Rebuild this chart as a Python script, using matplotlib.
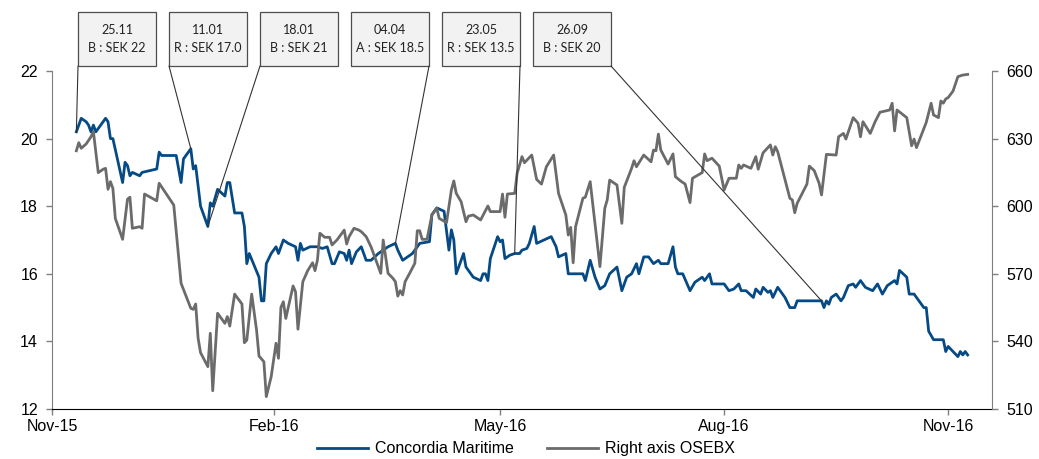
import pandas as pd
import matplotlib.pyplot as plt
import matplotlib.dates as mdates
from matplotlib.patches import Rectangle
from matplotlib.patches import ConnectionPatch

plt.rcParams['font.family'] = ['Liberation Sans', 'DejaVu Sans']

# days after 25.11.2015
start = pd.Timestamp('2015-11-25')

blue_day = [0, 2, 4, 5, 6, 7, 8, 12, 13, 14,
            15, 19, 20, 21, 22, 23, 26, 27, 33, 34,
            35, 41, 43, 44, 47, 48, 49, 51, 54, 55,
            56, 58, 61, 62, 63, 65, 68, 69, 70, 71,
            75, 76, 77, 78, 80, 82, 83, 85, 87, 90,
            91, 92, 93, 96, 99, 101, 103, 105, 106, 108,
            110, 111, 112, 113, 115, 117, 119, 121, 124, 128,
            131, 132, 134, 135, 138, 139, 141, 145, 146, 148,
            151, 153, 154, 155, 156, 159, 160, 163, 166, 167,
            168, 169, 170, 173, 174, 175, 176, 178, 180, 182,
            183, 185, 186, 188, 189, 192, 195, 197, 198, 201,
            202, 208, 209, 211, 213, 215, 217, 219, 222, 224,
            226, 228, 230, 231, 233, 235, 237, 239, 240, 243,
            245, 246, 247, 249, 252, 254, 257, 258, 260, 261,
            266, 268, 270, 272, 273, 275, 278, 279, 281, 282,
            284, 285, 286, 288, 291, 293, 295, 296, 303, 306,
            307, 308, 309, 310, 312, 314, 315, 317, 319, 320,
            322, 324, 327, 329, 331, 333, 336, 337, 338, 341,
            342, 344, 348, 349, 350, 352, 356, 357, 358, 362,
            363, 364, 365, 366]
blue_val = [20.2, 20.6, 20.5, 20.4, 20.2, 20.4, 20.2, 20.6, 20.5, 20.0,
            20.0, 18.7, 19.3, 19.2, 18.9, 19.0, 18.9, 19.0, 19.1, 19.6,
            19.5, 19.5, 18.7, 19.4, 19.7, 19.1, 19.2, 18.0, 17.4, 18.1,
            18.0, 18.5, 18.3, 18.7, 18.7, 17.8, 17.8, 17.4, 16.3, 16.6,
            15.9, 15.2, 15.2, 16.3, 16.6, 16.8, 16.6, 17.0, 16.9, 16.8,
            16.4, 16.9, 16.7, 16.8, 16.8, 16.75, 16.8, 16.3, 16.3, 16.65,
            16.6, 16.4, 16.7, 16.3, 16.65, 16.8, 16.4, 16.4, 16.6, 16.8,
            16.9, 16.7, 16.4, 16.45, 16.6, 16.7, 16.9, 16.95, 17.75, 17.95,
            17.85, 16.7, 17.3, 17.0, 16.0, 16.6, 16.2, 15.9, 15.8, 16.0,
            16.0, 15.8, 16.45, 17.1, 16.95, 17.0, 16.45, 16.55, 16.6, 16.6,
            16.7, 16.75, 16.9, 17.4, 16.9, 17.0, 17.1, 16.8, 16.5, 16.6,
            16.0, 16.0, 15.8, 16.4, 15.9, 15.55, 15.65, 16.0, 16.2, 15.5,
            15.9, 16.0, 16.3, 16.0, 16.5, 16.5, 16.3, 16.4, 16.3, 16.3,
            16.8, 16.2, 16.0, 16.0, 15.5, 15.75, 15.9, 15.8, 16.0, 15.7,
            15.7, 15.5, 15.55, 15.7, 15.5, 15.5, 15.3, 15.55, 15.4, 15.6,
            15.45, 15.5, 15.3, 15.6, 15.3, 15.0, 15.0, 15.2, 15.2, 15.2,
            15.0, 15.2, 15.1, 15.3, 15.4, 15.2, 15.3, 15.65, 15.7, 15.6,
            15.8, 15.6, 15.5, 15.7, 15.4, 15.65, 15.8, 15.7, 16.1, 15.9,
            15.4, 15.4, 15.0, 15.0, 14.3, 14.05, 14.05, 13.7, 13.85, 13.55,
            13.7, 13.6, 13.7, 13.6]

gray_day = [0, 1, 2, 4, 6, 7, 9, 11, 12, 13,
            14, 15, 16, 19, 21, 22, 23, 26, 27, 28,
            33, 34, 40, 43, 47, 48, 49, 50, 51, 54,
            55, 56, 58, 61, 62, 63, 65, 68, 69, 70,
            72, 74, 75, 77, 78, 80, 82, 83, 84, 85,
            86, 89, 90, 91, 93, 95, 97, 98, 99, 100,
            102, 104, 105, 107, 110, 111, 112, 114, 116, 117,
            119, 121, 125, 126, 128, 130, 131, 132, 133, 134,
            135, 137, 139, 140, 141, 142, 144, 146, 148, 149,
            152, 154, 155, 156, 158, 160, 161, 163, 166, 169,
            170, 174, 175, 176, 177, 180, 181, 183, 184, 187,
            189, 191, 193, 196, 198, 201, 202, 203, 204, 205,
            208, 209, 211, 215, 217, 218, 219, 222, 224, 225,
            228, 229, 230, 233, 236, 237, 238, 239, 240, 243,
            245, 246, 248, 250, 252, 253, 257, 258, 259, 261,
            264, 266, 268, 271, 272, 273, 274, 277, 279, 280,
            282, 285, 286, 287, 288, 293, 294, 295, 296, 300,
            301, 303, 305, 306, 308, 312, 313, 315, 316, 319,
            321, 322, 323, 326, 328, 330, 334, 335, 336, 337,
            341, 343, 344, 345, 349, 351, 352, 354, 355, 356,
            357, 358, 360, 362, 364, 366]
gray_val = [624.6, 628.2, 625.7, 627.6, 630.8, 633.1, 614.9, 616.4, 616.8, 607.5,
            610.9, 607.9, 594.6, 585.3, 603.1, 604.0, 590.2, 590.9, 590.2, 605.4,
            602.4, 610.2, 600.5, 565.8, 554.7, 554.2, 556.6, 541.4, 535.0, 528.8,
            543.6, 518.1, 552.5, 548.0, 551.0, 546.8, 561.0, 556.6, 539.4, 540.6,
            561.0, 545.0, 533.5, 531.0, 515.5, 524.3, 539.2, 532.5, 555.1, 557.6,
            550.2, 564.6, 562.0, 545.4, 566.5, 571.4, 574.9, 571.4, 576.1, 588.0,
            586.2, 586.2, 582.8, 585.0, 589.4, 583.2, 586.5, 590.2, 589.4, 588.7,
            586.5, 582.0, 570.2, 585.0, 570.2, 568.0, 566.5, 560.1, 562.5, 560.6,
            566.5, 570.5, 574.7, 589.1, 589.1, 585.3, 585.3, 596.1, 599.1, 594.6,
            592.7, 607.2, 611.2, 605.7, 602.0, 593.1, 595.6, 596.1, 593.9, 600.1,
            597.6, 597.6, 605.4, 595.1, 605.4, 605.7, 614.6, 622.0, 619.3, 622.7,
            611.9, 609.8, 617.5, 622.7, 605.7, 596.1, 587.2, 590.6, 574.9, 590.9,
            603.5, 604.0, 610.9, 573.2, 599.1, 602.8, 611.6, 609.4, 592.4, 608.4,
            616.8, 620.2, 617.5, 622.7, 619.7, 624.9, 624.6, 632.0, 624.9, 618.7,
            623.2, 613.1, 611.3, 609.8, 601.6, 612.4, 614.9, 623.2, 620.2, 621.3,
            617.8, 607.2, 612.4, 612.4, 618.3, 616.8, 618.3, 616.8, 622.0, 616.4,
            623.7, 627.2, 622.7, 626.4, 624.2, 603.5, 602.8, 597.1, 601.3, 609.8,
            617.8, 615.8, 610.2, 605.0, 623.0, 622.7, 630.8, 632.3, 629.8, 639.3,
            636.8, 630.8, 637.5, 632.3, 637.5, 641.7, 642.7, 645.7, 633.4, 642.7,
            639.3, 626.8, 629.8, 626.0, 637.2, 645.7, 640.5, 639.3, 646.7, 645.7,
            647.6, 648.2, 651.1, 657.5, 658.2, 658.5]

# recommendations
rec_dates = ['2015-11-25', '2016-01-11', '2016-01-18', '2016-04-04', '2016-05-23', '2016-09-26']
rec_labels = ['25.11\nB : SEK 22', '11.01\nR : SEK 17.0', '18.01\nB : SEK 21',
              '04.04\nA : SEK 18.5', '23.05\nR : SEK 13.5', '26.09\nB : SEK 20']

tick_dates = ['2015-11-15', '2016-02-14', '2016-05-17', '2016-08-17', '2016-11-17']
tick_labels = ['Nov-15', 'Feb-16', 'May-16', 'Aug-16', 'Nov-16']

blue = pd.Series(blue_val, index=start + pd.to_timedelta(blue_day, unit='D'))
gray = pd.Series(gray_val, index=start + pd.to_timedelta(gray_day, unit='D'))

W, H = 1039, 459
fig = plt.figure(figsize=(W / 100, H / 100), dpi=100)
ax = fig.add_axes([52 / W, 1 - 409 / H, 940 / W, 338 / H])
ax2 = ax.twinx()

BLUE = '#064A85'
GREY = '#6B6B6B'
l1, = ax.plot(blue.index, blue.values, color=BLUE, lw=2.0, label='Concordia Maritime')
l2, = ax2.plot(gray.index, gray.values, color=GREY, lw=2.0, label='Right axis OSEBX')

ax.set_xlim(pd.Timestamp('2015-11-15'), pd.Timestamp('2016-12-05'))
ax.set_ylim(12, 22)
ax.set_yticks(range(12, 23, 2))
ax2.set_ylim(510, 660)
ax2.set_yticks(range(510, 661, 30))
ax.set_xticks(pd.to_datetime(tick_dates))
ax.set_xticklabels(tick_labels)

for a in (ax, ax2):
    a.spines['top'].set_visible(False)
    a.tick_params(labelsize=11.5, colors='#000000', length=4, width=1)
ax.spines['left'].set_color('#7F7F7F')
ax2.spines['right'].set_color('#7F7F7F')
ax2.spines['left'].set_visible(False)
ax.spines['right'].set_visible(False)
ax.spines['bottom'].set_color('#000000')
ax2.spines['bottom'].set_visible(False)
ax.tick_params(axis='y', color='#7F7F7F', pad=6)
ax2.tick_params(axis='y', color='#7F7F7F', pad=6)
ax.tick_params(axis='x', color='#7F7F7F', length=4, pad=3)

# recommendation boxes with leader lines
box_left = [78, 169, 260, 351, 442, 533]
box_corner = [0, 0, 0, 1, 1, 1]
bw, bh, btop = 78, 54, 12
for d, lab, x0, c in zip(rec_dates, rec_labels, box_left, box_corner):
    fx, fy = x0 / W, 1 - (btop + bh) / H
    fig.add_artist(Rectangle((fx, fy), bw / W, bh / H, transform=fig.transFigure,
                             facecolor='#F2F2F2', edgecolor='#4D4D4D', lw=0.9))
    fig.text(fx + bw / W / 2, fy + bh / H / 2, lab, ha='center', va='center',
             fontsize=9, family=['Lato', 'DejaVu Sans'], color='#222222', linespacing=1.6)
    dt = pd.Timestamp(d)
    con = ConnectionPatch(xyA=(fx + c * bw / W, fy), coordsA=fig.transFigure,
                          xyB=(mdates.date2num(dt), blue[dt]), coordsB=ax.transData,
                          color='#333333', lw=0.8)
    fig.add_artist(con)

fig.legend(handles=[l1, l2], loc='center', bbox_to_anchor=(0.506, 0.022),
           ncol=2, frameon=False, fontsize=11.5, handlelength=3.2,
           handletextpad=0.4, columnspacing=2.1, borderpad=0)

fig.savefig('out.png', dpi=100)
